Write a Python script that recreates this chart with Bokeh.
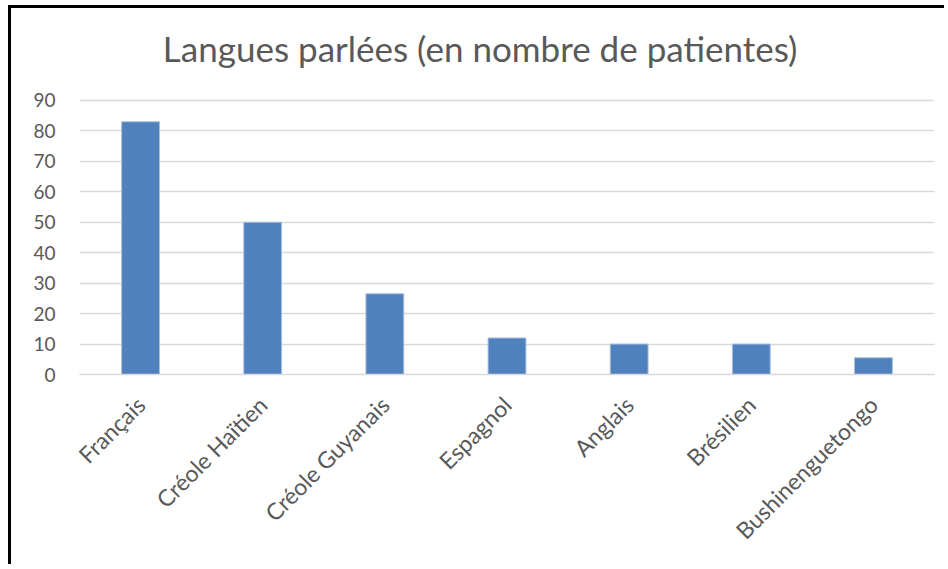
import math
from bokeh.plotting import figure
from bokeh.models import Range1d, FactorRange, FixedTicker, ColumnDataSource, Label
from bokeh.embed import file_html
from bokeh.resources import INLINE

categories = ["Français", "Créole Haïtien", "Créole Guyanais", "Espagnol", "Anglais", "Brésilien", "Bushinenguetongo"]
patientes = [83, 50, 26.5, 12, 10, 10, 5.5]
y_ticks = [0, 10, 20, 30, 40, 50, 60, 70, 80, 90]
title_text = "Langues parlées (en nombre de patientes)"

W, H = 936, 559
# y range extends above 90 so that the title area lies inside the plot frame
p = figure(x_range=FactorRange(*categories, range_padding=0), y_range=Range1d(0, 120.2),
           width=W, height=H, output_backend="svg", toolbar_location=None,
           min_border_left=68, min_border_right=13, min_border_top=0, min_border_bottom=193,
           styles={"vertical-align": "top", "margin-left": "11px", "margin-top": "8px",
                   "border": "none", "box-shadow": "-3px -3px 0 0 #000"})
p.outline_line_color = None
p.background_fill_color = "white"
p.border_fill_color = "white"

src = ColumnDataSource(dict(cat=categories, val=patientes))
p.vbar(x="cat", top="val", width=0.31, source=src, fill_color="#4f81bd",
       line_color="#a9c0de", line_width=1)

p.ygrid.grid_line_color = "#d9d9d9"
p.ygrid.grid_line_width = 1.5
p.xgrid.grid_line_color = None

p.yaxis.ticker = FixedTicker(ticks=y_ticks)
p.yaxis.axis_line_color = None
p.yaxis.major_tick_line_color = None
p.yaxis.minor_tick_line_color = None
p.yaxis.major_tick_out = 0
p.yaxis.major_label_standoff = 24
p.yaxis.major_label_text_font = "Lato"
p.yaxis.major_label_text_font_size = "19px"
p.yaxis.major_label_text_color = "#595959"

p.xaxis.axis_line_color = "#d9d9d9"
p.xaxis.axis_line_width = 1.5
p.xaxis.major_tick_line_color = None
p.xaxis.major_tick_out = 0
p.xaxis.major_label_orientation = math.pi / 4
p.xaxis.major_label_standoff = 26
p.xaxis.major_label_text_font = "Lato"
p.xaxis.major_label_text_font_size = "23px"
p.xaxis.major_label_text_color = "#595959"

p.add_layout(Label(x=3.28, y=107.2, text=title_text, text_align="center",
                   text_baseline="alphabetic", text_font="Lato", text_font_size="35px",
                   text_color="#595959"))

open("out.html", "w").write(file_html(p, INLINE))
